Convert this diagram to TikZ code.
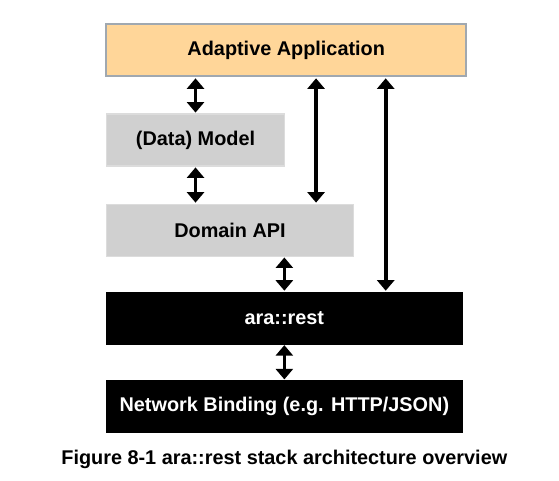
\documentclass[tikz,border=0pt]{standalone}
\usepackage{fontspec}
\setmainfont{Liberation Sans}
\usetikzlibrary{positioning,arrows.meta}

\definecolor{appfill}{RGB}{255,214,153}
\definecolor{appline}{RGB}{160,168,176}
\definecolor{layerfill}{RGB}{208,208,208}
\definecolor{layerline}{RGB}{220,220,220}

\tikzset{
  labelfont/.style={font=\bfseries\fontsize{11.3}{13}\selectfont},
  appbox/.style={draw=appline,line width=1.4pt,fill=appfill,minimum width=7.2cm,minimum height=1.04cm,labelfont},
  greybox/.style={draw=layerline,line width=0.6pt,fill=layerfill,minimum height=1.04cm,labelfont},
  blackbox/.style={draw=black,fill=black,text=white,minimum width=7.12cm,minimum height=1.04cm,labelfont},
  biarrow/.style={{Triangle[width=0.34cm,length=0.21cm]}-{Triangle[width=0.34cm,length=0.21cm]},line width=2.1pt,shorten <=0.5pt,shorten >=0.5pt}
}

\begin{document}
\begin{tikzpicture}
            \useasboundingbox (0,0) rectangle (11.18,-9.6);
            \node[appbox,anchor=north west] (app) at (2.1,-0.46) {Adaptive Application};
            \node[greybox,minimum width=3.56cm] (model)[below right =0.72cm and 0.02cm of app.south west] {(Data) Model};
            \node[greybox,minimum width=4.94cm] (domain)[below right =0.74cm and 0cm of model.south west] {Domain API};
            \node[blackbox] (ara)[below right =0.7cm and 0cm of domain.south west] {ara::rest};
            \node[blackbox] (net)[below right =0.72cm and 0cm of ara.south west] {Network Binding (e.g. HTTP/JSON)};
            \node[labelfont] (caption)[below =0.22cm of net] {Figure 8-1 ara::rest stack architecture overview};
            \coordinate (domaintop) at ([xshift=-0.76cm]domain.north east);
            \coordinate (aratop) at ([xshift=-1.54cm]ara.north east);
            % connectors
            \draw[biarrow] (app.south -| model.north) -- (model.north);
            \draw[biarrow] (model.south) -- (model.south |- domain.north);
            \draw[biarrow] (app.south -| domaintop) -- (domaintop);
            \draw[biarrow] (app.south -| aratop) -- (aratop);
            \draw[biarrow] (domain.south -| ara.north) -- (ara.north);
            \draw[biarrow] (ara.south) -- (net.north);
        \end{tikzpicture}
\end{document}
